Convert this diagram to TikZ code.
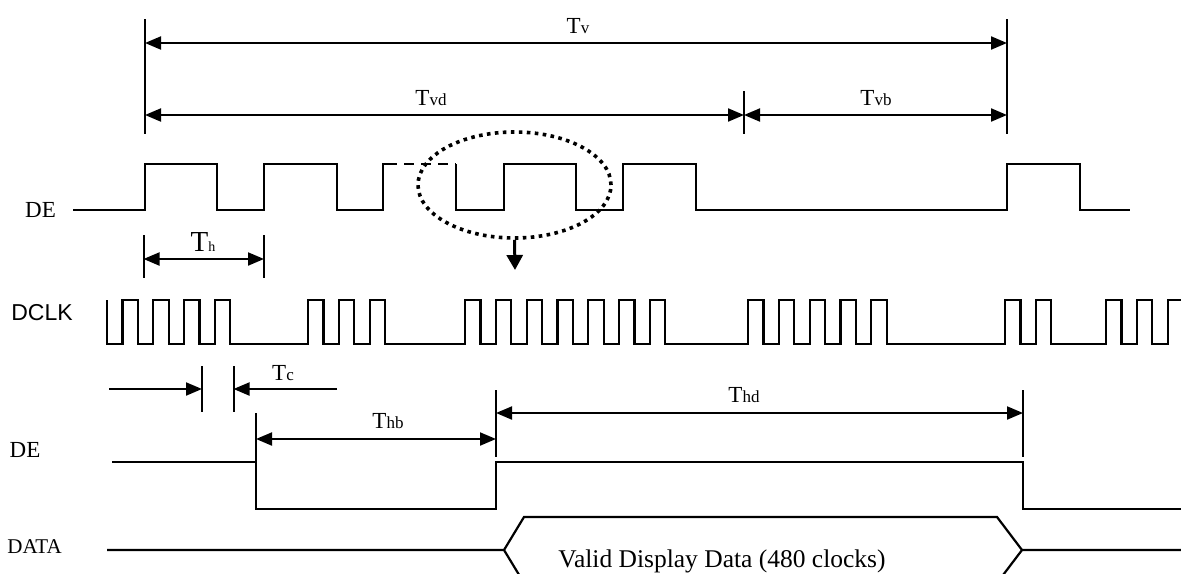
\documentclass[tikz,border=0pt]{standalone}
\usepackage{fontspec}
\setmainfont{Liberation Serif}
\newfontfamily\arialfont{Liberation Sans}
\usetikzlibrary{arrows.meta,shapes.geometric}

\newcommand{\tsub}[1]{{\fontsize{8.5}{9}\selectfont #1}}

\begin{document}
\begin{tikzpicture}[x=0.5pt, y=-0.5pt,
  wave/.style={line width=1.1pt, line join=miter},
  ext/.style={line width=1pt},
  dim/.style={line width=1pt, {Triangle[length=8pt,width=6.5pt]}-{Triangle[length=8pt,width=6.5pt]}},
  rarr/.style={line width=1pt, -{Triangle[length=8pt,width=6.5pt]}},
  sig/.style={font=\fontsize{11.5}{12}\selectfont, inner sep=0pt, anchor=base},
  tlbl/.style={font=\fontsize{11.5}{12}\selectfont, inner sep=0pt, anchor=base},
  ring/.style={ellipse, draw, line width=1.8pt, dash pattern=on 1.8pt off 2.2pt,
               minimum width=96.5pt, minimum height=53pt, inner sep=0pt}
]
\useasboundingbox (0,0) rectangle (1181,573);
\clip (0,0) rectangle (1181,573);

% signal names
\node[sig] (de1) at (40.5,217.3) {DE};
\node[sig, font=\arialfont\fontsize{11.5}{12}\selectfont] (dclk) at (42,320.7) {DCLK};
\node[sig] (de2) at (25,457) {DE};
\node[sig, font=\fontsize{10.5}{11}\selectfont] (data) at (34.5,553) {DATA};

% frame timing
\draw[ext] (145,19) -- (145,134);
\draw[ext] (1007,19) -- (1007,134);
\draw[ext] (744,91) -- (744,134);
\coordinate (tvL) at (145,43);
\coordinate (tvR) at (1007,43);
\coordinate (tvdL) at (145,115);
\coordinate (tvdR) at (744,115);
\coordinate (tvbR) at (1007,115);
\draw[dim] (tvL) -- (tvR);
\draw[dim] (tvdL) -- (tvdR);
\draw[dim] (tvdR) -- (tvbR);
\node[tlbl] (tv) at (578,33) {T\tsub{v}};
\node[tlbl] (tvd) at (431,105.5) {T\tsub{vd}};
\node[tlbl] (tvb) at (876,105.5) {T\tsub{vb}};

\draw[wave] (73,210) foreach \a/\b in {145/217,264/337}{
    -- (\a,210) -- (\a,164) -- (\b,164) -- (\b,210) }
  -- (383,210) -- (383,164) -- (387,164);
\draw[wave, dash pattern=on 5pt off 3.5pt] (387,164) -- (456,164);
\draw[wave] (456,164) -- (456,210) foreach \a/\b in {504/576,623/696,1007/1080}{
    -- (\a,210) -- (\a,164) -- (\b,164) -- (\b,210) }
  -- (1130,210);

\node[ring] (zoomring) at (514.5,185) {};
\coordinate (clkmark) at (515,270);
\draw[line width=1.5pt, -{Triangle[length=7.5pt,width=8pt]}] (zoomring.south) -- (clkmark);

% line timing
\draw[ext] (143.5,235) -- (143.5,278);
\draw[ext] (264,235) -- (264,278);
\coordinate (thL) at (143.5,259);
\coordinate (thR) at (264,259);
\draw[dim] (thL) -- (thR);
\node[inner sep=0pt, anchor=base, font=\fontsize{14.5}{15}\selectfont] (th) at (203,251.5)
  {T{\fontsize{7}{8}\selectfont h}};

\draw[wave] (107,300) -- (107,344)
  foreach \s/\n in {122.5/4,308/3,465/7,748/5,1005/2,1106/3}{
    -- (\s,344) foreach \k in {1,...,\n}{ -- ++(0,-44) -- ++(15.4,0) -- ++(0,44) -- ++(15.4,0) } };

\draw[ext] (202,366) -- (202,412);
\draw[ext] (233.5,366) -- (233.5,412);
\coordinate (tcA) at (109,389);
\coordinate (tcL) at (202,389);
\coordinate (tcR) at (233.5,389);
\coordinate (tcB) at (337,389);
\draw[rarr] (tcA) -- (tcL);
\draw[rarr] (tcB) -- (tcR);
\node[tlbl] (tc) at (283,380.5) {T\tsub{c}};

\draw[ext] (256,413) -- (256,462);
\draw[ext] (496,390) -- (496,457);
\draw[ext] (1023,390) -- (1023,457);
\coordinate (thbL) at (256,439);
\coordinate (thbR) at (496,439);
\coordinate (thdL) at (496,413);
\coordinate (thdR) at (1023,413);
\draw[dim] (thbL) -- (thbR);
\draw[dim] (thdL) -- (thdR);
\node[tlbl] (thb) at (388,428) {T\tsub{hb}};
\node[tlbl] (thd) at (744,402) {T\tsub{hd}};

\draw[wave] (112,462) -- (256,462) -- (256,509) -- (496,509) -- (496,462)
  -- (1023,462) -- (1023,509) -- (1181,509);

% data
\draw[wave] (107,550) -- (504,550) -- (524,517) -- (997,517) -- (1022,550) -- (1181,550);
\draw[wave] (504,550) -- (524,583) -- (997,583) -- (1022,550);
\node[inner sep=0pt, anchor=base, font=\fontsize{12.75}{14}\selectfont] (valid) at (722,567)
  {Valid Display Data (480 clocks)};
\end{tikzpicture}
\end{document}
